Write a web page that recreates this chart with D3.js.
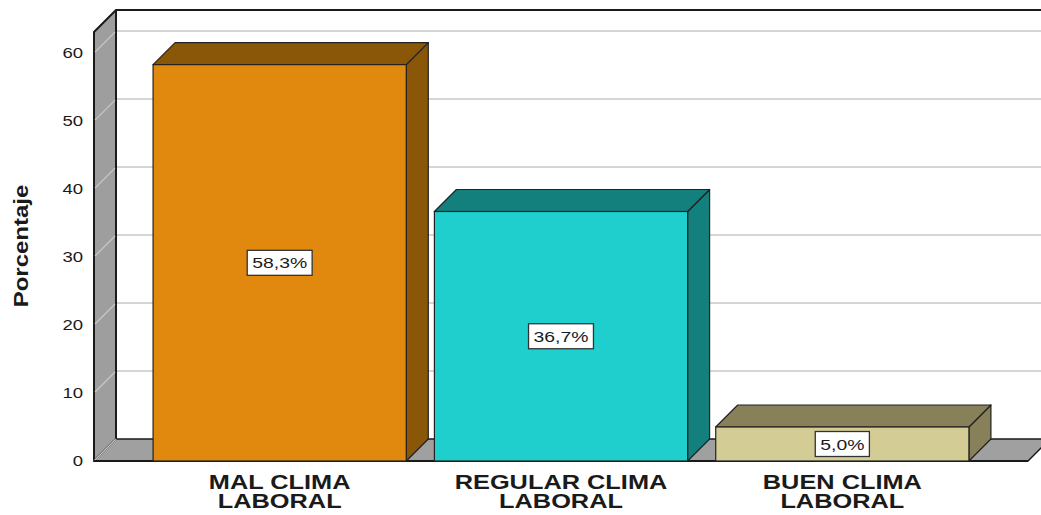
<!DOCTYPE html>
<html>
<head>
<meta charset="utf-8">
<script src="https://cdn.jsdelivr.net/npm/d3@7"></script>
<style>
  html, body { margin: 0; padding: 0; background: #ffffff; }
  svg { display: block; }
  text { font-family: "Liberation Sans", Arial, sans-serif; fill: #1a1a1a; }
</style>
</head>
<body>
<svg id="chart" width="1041" height="515"></svg>
<script>
// Data
const categories = ["MAL CLIMA LABORAL", "REGULAR CLIMA LABORAL", "BUEN CLIMA LABORAL"];
const categoryLines = [["MAL CLIMA", "LABORAL"], ["REGULAR CLIMA", "LABORAL"], ["BUEN CLIMA", "LABORAL"]];
const percentages = [58.3, 36.7, 5.0];
const yTicks = [0, 10, 20, 30, 40, 50, 60];
const yTitle = "Porcentaje";

// Colours: front face, top/side faces
const frontColors = ["#e1890f", "#1ecfce", "#d3cc94"];
const sideColors = ["#8a5709", "#13807e", "#878059"];

const svg = d3.select("#chart");

// Plot geometry (front plane) and 3D depth offset
const plotLeft = 94, plotRight = 1028, plotBottom = 461, plotTop = 32;
const DX = 22, DY = 22;
const yMax = 63.1;

const x = d3.scaleBand().domain(categories).range([plotLeft, plotRight])
  .paddingInner(0.1).paddingOuter(0.21);
const y = d3.scaleLinear().domain([0, yMax]).range([plotBottom, plotTop]);

const fmt = d3.formatLocale({ decimal: ",", thousands: ".", grouping: [3], currency: ["", ""] }).format(".1f");

const poly = pts => "M" + pts.map(p => p.join(",")).join("L") + "Z";

// Back wall
svg.append("rect")
  .attr("x", plotLeft + DX).attr("y", y(yMax) - DY)
  .attr("width", 1045 - (plotLeft + DX)).attr("height", plotBottom - y(yMax))
  .attr("fill", "#ffffff");

// Gridlines on back wall
svg.append("g").selectAll("line").data(yTicks.filter(d => d > 0)).join("line")
  .attr("x1", plotLeft + DX).attr("x2", 1045)
  .attr("y1", d => y(d) - DY).attr("y2", d => y(d) - DY)
  .attr("stroke", "#d6d6d6").attr("stroke-width", 2);

// Back wall top edge
svg.append("line")
  .attr("x1", plotLeft + DX).attr("x2", 1045)
  .attr("y1", y(yMax) - DY).attr("y2", y(yMax) - DY)
  .attr("stroke", "#1a1a1a").attr("stroke-width", 2);

// Left wall
svg.append("path")
  .attr("d", poly([[plotLeft, plotBottom], [plotLeft, y(yMax)], [plotLeft + DX, y(yMax) - DY], [plotLeft + DX, plotBottom - DY]]))
  .attr("fill", "#9e9e9e").attr("stroke", "#1a1a1a").attr("stroke-width", 2)
  .attr("stroke-linejoin", "round");

// Gridlines across left wall
svg.append("g").selectAll("line").data(yTicks).join("line")
  .attr("x1", plotLeft + 1).attr("x2", plotLeft + DX - 1)
  .attr("y1", d => y(d) - 1).attr("y2", d => y(d) - DY + 1)
  .attr("stroke", "#c8c8c8").attr("stroke-width", 1.2);

// Floor
svg.append("path")
  .attr("d", poly([[plotLeft, plotBottom], [plotRight, plotBottom], [plotRight + DX, plotBottom - DY], [plotLeft + DX, plotBottom - DY]]))
  .attr("fill", "#a0a0a0").attr("stroke", "#1a1a1a").attr("stroke-width", 1.5)
  .attr("stroke-linejoin", "round");
svg.append("line")
  .attr("x1", plotLeft).attr("y1", plotBottom).attr("x2", plotLeft + DX).attr("y2", plotBottom - DY)
  .attr("stroke", "#c8c8c8").attr("stroke-width", 1.2);
svg.append("line")
  .attr("x1", plotLeft).attr("y1", plotBottom).attr("x2", plotRight).attr("y2", plotBottom)
  .attr("stroke", "#1a1a1a").attr("stroke-width", 2);

// Bars (3D boxes)
const bars = svg.append("g").selectAll("g").data(categories).join("g");
bars.each(function (c, i) {
  const g = d3.select(this);
  const x0 = x(c), x1 = x(c) + x.bandwidth();
  const yt = y(percentages[i]), yb = y(0);
  // side face
  g.append("path")
    .attr("d", poly([[x1, yb], [x1, yt], [x1 + DX, yt - DY], [x1 + DX, yb - DY]]))
    .attr("fill", sideColors[i]).attr("stroke", "#222").attr("stroke-width", 1.2)
    .attr("stroke-linejoin", "round");
  // top face
  g.append("path")
    .attr("d", poly([[x0, yt], [x1, yt], [x1 + DX, yt - DY], [x0 + DX, yt - DY]]))
    .attr("fill", sideColors[i]).attr("stroke", "#222").attr("stroke-width", 1.2)
    .attr("stroke-linejoin", "round");
  // front face
  g.append("rect")
    .attr("x", x0).attr("y", yt).attr("width", x1 - x0).attr("height", yb - yt)
    .attr("fill", frontColors[i]).attr("stroke", "#222").attr("stroke-width", 1.2);
});

// Y axis labels
const yAxis = svg.append("g")
  .attr("transform", `translate(${plotLeft},0)`)
  .call(d3.axisLeft(y).tickValues(yTicks).tickSize(0).tickPadding(8.5).tickFormat(d3.format("d")));
yAxis.select(".domain").remove();
yAxis.selectAll("text")
  .attr("font-size", 14.5).attr("font-family", "Liberation Sans, Arial, sans-serif")
  .attr("fill", "#1a1a1a")
  .attr("transform", "scale(1.28,1)");

// Y axis title
svg.append("g")
  .attr("transform", "translate(28,246) rotate(-90) scale(1.17,1)")
  .append("text")
  .attr("text-anchor", "middle")
  .attr("font-size", 20.5).attr("font-weight", "bold")
  .text(yTitle);

// Category labels, two lines each
const catLabels = svg.append("g").selectAll("g").data(categories).join("g")
  .attr("transform", c => `translate(${x(c) + x.bandwidth() / 2},489) scale(1.3,1)`);
catLabels.append("text")
  .attr("text-anchor", "middle")
  .attr("font-size", 19.5).attr("font-weight", "bold")
  .each(function (c, i) {
    const t = d3.select(this);
    categoryLines[i].forEach((line, k) => {
      t.append("tspan").attr("x", 0).attr("y", k * 19).text(line);
    });
  });

// Value labels
const valueLabels = svg.append("g").selectAll("g").data(categories).join("g")
  .attr("transform", (c, i) => `translate(${x(c) + x.bandwidth() / 2},${(y(percentages[i]) + y(0)) / 2})`);
valueLabels.each(function (c, i) {
  const g = d3.select(this);
  const rect = g.append("rect");
  const t = g.append("g").attr("transform", "scale(1.25,1)")
    .append("text")
    .attr("text-anchor", "middle").attr("dy", "0.36em")
    .attr("font-size", 15.5)
    .text(fmt(percentages[i]) + "%");
  const w = t.node().getComputedTextLength() * 1.25 + 10;
  rect.attr("x", -w / 2).attr("y", -12.5).attr("width", w).attr("height", 25)
    .attr("fill", "#ffffff").attr("stroke", "#333").attr("stroke-width", 1.3);
});
</script>
</body>
</html>
